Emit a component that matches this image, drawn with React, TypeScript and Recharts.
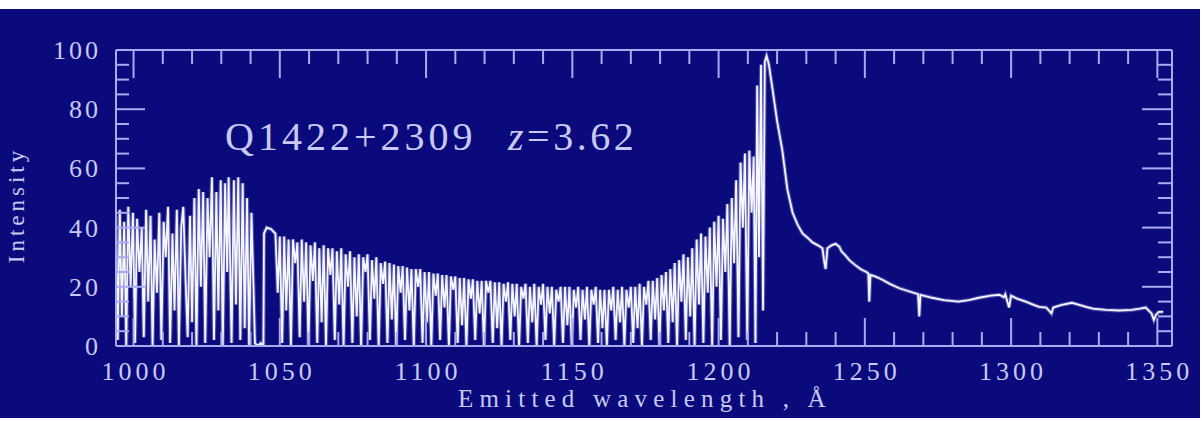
import React from 'react';
import { LineChart, Line, XAxis, YAxis } from 'recharts';

// Ly-alpha forest, blueward of the emission peak: [wavelength (Å), intensity]
const lyaForest: [number, number][] = [
  [994.0, 44], [994.6, 2], [995.3, 46], [996.0, 10], [996.8, 42], [997.5, 0], [998.2, 47], [999.0, 20],
  [999.8, 45], [1000.5, 1], [1001.2, 43], [1002.0, 25], [1002.8, 40], [1003.5, 3], [1004.3, 46], [1005.0, 15],
  [1005.8, 44], [1006.5, 0], [1007.2, 36], [1008.0, 18], [1008.8, 45], [1009.5, 2], [1010.3, 42], [1011.0, 30],
  [1011.8, 47], [1012.5, 1], [1013.3, 38], [1014.0, 12], [1014.8, 46], [1015.5, 0], [1016.3, 40], [1017.0, 47],
  [1017.8, 22], [1018.5, 3], [1019.3, 44], [1020.0, 8], [1020.8, 50], [1021.5, 0], [1022.3, 53], [1023.0, 20],
  [1023.8, 52], [1024.5, 1], [1025.3, 50], [1026.0, 30], [1026.8, 57], [1027.5, 2], [1028.3, 52], [1029.0, 12],
  [1029.8, 56], [1030.5, 0], [1031.3, 55], [1032.0, 25], [1032.5, 57], [1033.5, 1], [1034.3, 56], [1035.0, 14],
  [1035.8, 57], [1036.5, 2], [1037.3, 55], [1038.0, 6], [1038.8, 50], [1039.5, 0], [1040.3, 45], [1041.0, 20],
  [1041.5, 1], [1042.5, 0], [1043.5, 1], [1044.4, 0], [1044.6, 38], [1045.5, 40], [1047.0, 39.5], [1048.5, 38],
  [1049.3, 18], [1050.0, 37], [1050.8, 1], [1051.5, 37], [1052.2, 12], [1053.0, 36], [1053.8, 0], [1054.5, 36],
  [1055.3, 28], [1056.0, 35], [1056.8, 3], [1057.5, 36], [1058.3, 15], [1059.0, 35], [1059.8, 0], [1060.5, 34],
  [1061.3, 22], [1062.0, 35], [1062.8, 1], [1063.5, 33], [1064.3, 8], [1065.0, 34], [1065.8, 0], [1066.5, 33],
  [1067.3, 24], [1068.0, 33], [1068.8, 2], [1069.5, 32], [1070.3, 14], [1071.0, 33], [1071.8, 0], [1072.5, 31],
  [1073.3, 20], [1074.0, 32], [1074.8, 1], [1075.5, 30], [1076.3, 10], [1077.0, 31], [1077.8, 0], [1078.5, 30],
  [1079.3, 25], [1080.0, 31], [1080.8, 2], [1081.5, 29], [1082.3, 16], [1083.0, 30], [1083.8, 0], [1084.5, 28],
  [1085.3, 21], [1086.0, 28.5], [1086.8, 1], [1087.5, 28], [1088.3, 9], [1089.0, 27.5], [1089.8, 0], [1090.5, 27],
  [1091.3, 18], [1092.0, 27], [1092.8, 2], [1093.5, 26.5], [1094.3, 12], [1095.0, 26], [1095.8, 0], [1096.5, 26],
  [1097.3, 20], [1098.0, 26], [1098.8, 1], [1099.5, 25], [1100.3, 8], [1101.0, 25], [1101.8, 0], [1102.5, 24.5],
  [1103.3, 17], [1104.0, 24.5], [1104.8, 2], [1105.5, 24], [1106.3, 13], [1107.0, 24], [1107.8, 0], [1108.5, 23.5],
  [1109.3, 19], [1110.0, 23.5], [1110.8, 1], [1111.5, 23], [1112.3, 7], [1113.0, 23], [1113.8, 0], [1114.5, 22.5],
  [1115.3, 16], [1116.0, 22.5], [1116.8, 2], [1117.5, 22], [1118.3, 11], [1119.0, 22], [1119.8, 0], [1120.5, 22],
  [1121.3, 18], [1122.0, 22], [1122.8, 1], [1123.5, 21.5], [1124.3, 6], [1125.0, 21.5], [1125.8, 0], [1126.5, 21],
  [1127.3, 15], [1128.0, 21.5], [1128.8, 2], [1129.5, 21], [1130.3, 10], [1131.0, 21], [1131.8, 0], [1132.5, 20],
  [1133.3, 16], [1134.0, 21], [1134.8, 1], [1135.5, 20], [1136.3, 8], [1137.0, 21], [1137.8, 0], [1138.5, 20],
  [1139.3, 14], [1140.0, 21], [1140.8, 2], [1141.5, 20], [1142.3, 11], [1143.0, 20], [1143.8, 0], [1144.5, 19],
  [1145.3, 15], [1146.0, 20], [1146.8, 1], [1147.5, 20], [1148.3, 7], [1149.0, 20], [1149.8, 0], [1150.5, 19],
  [1151.3, 13], [1152.0, 20], [1152.8, 2], [1153.5, 19], [1154.3, 9], [1155.0, 20], [1155.8, 0], [1156.5, 19],
  [1157.3, 14], [1158.0, 20], [1158.8, 1], [1159.5, 19], [1160.3, 6], [1161.0, 19], [1161.8, 0], [1162.5, 19],
  [1163.3, 12], [1164.0, 20], [1164.8, 2], [1165.5, 19], [1166.3, 8], [1167.0, 20], [1167.8, 0], [1168.5, 19],
  [1169.3, 13], [1170.0, 20], [1170.8, 1], [1171.5, 20], [1172.3, 6], [1173.0, 21], [1173.8, 0], [1174.5, 20],
  [1175.3, 14], [1176.0, 22], [1176.8, 2], [1177.5, 22], [1178.3, 9], [1179.0, 23], [1179.8, 0], [1180.5, 24],
  [1181.3, 12], [1182.0, 25], [1182.8, 1], [1183.5, 26], [1184.3, 8], [1185.0, 28], [1185.8, 0], [1186.5, 29],
  [1187.3, 15], [1188.0, 31], [1188.8, 2], [1189.5, 30], [1190.3, 10], [1191.0, 33], [1191.8, 0], [1192.5, 36],
  [1193.3, 14], [1194.0, 38], [1194.8, 1], [1195.5, 37], [1196.3, 18], [1197.0, 40], [1197.8, 0], [1198.5, 42],
  [1199.3, 20], [1200.0, 44], [1200.8, 2], [1201.5, 43], [1202.3, 25], [1203.0, 48], [1203.8, 0], [1204.5, 50],
  [1205.3, 28], [1206.0, 56], [1206.8, 3], [1207.5, 62], [1208.3, 40], [1209.0, 65], [1209.8, 2], [1210.5, 66],
  [1211.3, 45], [1212.0, 64], [1212.6, 1], [1213.2, 88], [1213.8, 30], [1214.5, 95], [1215.2, 12], [1215.8, 96],
];

// Emission peak and the red wing with its metal lines: [wavelength (Å), intensity]
const redWing: [number, number][] = [
  [1216.4, 98], [1217.2, 95], [1218.4, 87], [1220.0, 76], [1221.8, 66], [1223.5, 53], [1225.3, 45], [1227.0, 41],
  [1228.7, 38], [1230.5, 36.5], [1232.1, 35], [1234.0, 34], [1235.5, 33], [1236.2, 28], [1236.6, 26], [1237.2, 33],
  [1238.6, 34], [1240.0, 34.5], [1241.3, 33.5], [1242.0, 32], [1243.0, 31], [1244.7, 29], [1246.5, 27.5], [1248.5, 26],
  [1250.5, 25], [1251.2, 24.5], [1251.5, 15], [1251.9, 24], [1253.5, 23.5], [1256.0, 22.4], [1258.5, 21], [1261.8, 19.5],
  [1265.0, 18.5], [1268.2, 17.5], [1268.6, 10], [1269.0, 17.3], [1271.0, 16.8], [1273.0, 16.3], [1277.0, 15.5], [1282.0, 15],
  [1285.5, 15.5], [1289.0, 16.3], [1293.0, 17], [1296.0, 17.3], [1297.5, 16.5], [1298.0, 17.5], [1299.3, 13], [1300.0, 17],
  [1302.0, 16], [1305.0, 15], [1307.5, 14], [1309.6, 13.2], [1312.0, 13], [1313.8, 11], [1314.4, 13], [1317.0, 13.8],
  [1320.8, 14.6], [1323.0, 14], [1325.6, 13.2], [1328.0, 12.6], [1332.4, 12.2], [1337.0, 12], [1341.3, 12.2], [1344.0, 12.6],
  [1346.0, 13], [1348.0, 11], [1348.8, 8.8], [1349.5, 10.5], [1350.5, 11.5], [1352.0, 11.5],
];

const wavelengthTicks = [
  1000, 1010, 1020, 1030, 1040, 1050, 1060, 1070, 1080, 1090, 1100, 1110, 1120, 1130, 1140, 1150, 1160, 1170,
  1180, 1190, 1200, 1210, 1220, 1230, 1240, 1250, 1260, 1270, 1280, 1290, 1300, 1310, 1320, 1330, 1340, 1350,
];
const intensityTicks = [0, 5, 10, 15, 20, 25, 30, 35, 40, 45, 50, 55, 60, 65, 70, 75, 80, 85, 90, 95, 100];

const spectrum = [...lyaForest, ...redWing].map(([wavelength, intensity]) => ({ wavelength, intensity }));

const BG = '#0a0a7c';
const AXIS = '#a9aaf0';
const TEXT = '#c9c9f4';
const SPEC = '#f6f6ff';
const GLOW = '#9a9ae6';
const FONT = '"Liberation Serif", "Times New Roman", serif';

const isMajorX = (v: number) => v % 50 === 0;
const isMajorY = (v: number) => v % 20 === 0;

const BottomTick = (props: any) => {
  const { x, y, payload } = props;
  const v = payload.value as number;
  const major = isMajorX(v);
  return (
    <g>
      <line x1={x} y1={y} x2={x} y2={y - (major ? 28 : 14)} stroke={AXIS} strokeWidth={2} />
      {major && (
        <text x={x + 2} y={y + 34} textAnchor="middle" fill={TEXT} fontFamily={FONT} fontSize={26} letterSpacing={4}>
          {v}
        </text>
      )}
    </g>
  );
};

const TopTick = (props: any) => {
  const { x, y, payload } = props;
  const major = isMajorX(payload.value);
  return <line x1={x} y1={y} x2={x} y2={y + (major ? 28 : 14)} stroke={AXIS} strokeWidth={2} />;
};

const LeftTick = (props: any) => {
  const { x, y, payload } = props;
  const v = payload.value as number;
  const major = isMajorY(v);
  return (
    <g>
      <line x1={x} y1={y} x2={x + (major ? 29 : 13)} y2={y} stroke={AXIS} strokeWidth={2} />
      {major && (
        <text x={x - 15} y={y + 9} textAnchor="end" fill={TEXT} fontFamily={FONT} fontSize={26} letterSpacing={3}>
          {v}
        </text>
      )}
    </g>
  );
};

const RightTick = (props: any) => {
  const { x, y, payload } = props;
  const major = isMajorY(payload.value);
  return <line x1={x} y1={y} x2={x - (major ? 30 : 14)} y2={y} stroke={AXIS} strokeWidth={2} />;
};

export default function App() {
  return (
    <div style={{ position: 'absolute', left: 0, top: 0, width: 1202, height: 421, background: '#ffffff' }}>
      <div style={{ position: 'absolute', left: 0, top: 9, width: 1200, height: 409, background: BG }}>
        <LineChart
          width={1200}
          height={409}
          data={spectrum}
          margin={{ top: 40, right: 27, bottom: 0, left: 0 }}
        >
          <XAxis
            xAxisId="bottom"
            dataKey="wavelength"
            type="number"
            domain={[994, 1355]}
            allowDataOverflow
            ticks={wavelengthTicks}
            interval={0}
            height={72}
            tickSize={0}
            tickMargin={0}
            tickLine={false}
            axisLine={{ stroke: AXIS, strokeWidth: 2 }}
            tick={<BottomTick />}
          />
          <XAxis
            xAxisId="top"
            orientation="top"
            dataKey="wavelength"
            type="number"
            domain={[994, 1355]}
            allowDataOverflow
            ticks={wavelengthTicks}
            interval={0}
            height={1}
            tickSize={0}
            tickMargin={0}
            tickLine={false}
            axisLine={{ stroke: AXIS, strokeWidth: 2 }}
            tick={<TopTick />}
          />
          <YAxis
            yAxisId="left"
            type="number"
            domain={[0, 100]}
            allowDataOverflow
            ticks={intensityTicks}
            interval={0}
            width={116}
            tickSize={0}
            tickMargin={0}
            tickLine={false}
            axisLine={{ stroke: AXIS, strokeWidth: 2 }}
            tick={<LeftTick />}
          />
          <YAxis
            yAxisId="right"
            orientation="right"
            type="number"
            domain={[0, 100]}
            allowDataOverflow
            ticks={intensityTicks}
            interval={0}
            width={1}
            tickSize={0}
            tickMargin={0}
            tickLine={false}
            axisLine={{ stroke: AXIS, strokeWidth: 2 }}
            tick={<RightTick />}
          />
          {/* soft lavender halo under the spectrum trace */}
          <Line
            xAxisId="bottom"
            yAxisId="left"
            dataKey="intensity"
            type="linear"
            stroke={GLOW}
            strokeWidth={4}
            strokeOpacity={0.45}
            dot={false}
            legendType="none"
            isAnimationActive={false}
          />
          <Line
            xAxisId="bottom"
            yAxisId="left"
            dataKey="intensity"
            type="linear"
            stroke={SPEC}
            strokeWidth={1.8}
            dot={false}
            isAnimationActive={false}
          />
          <Line
            xAxisId="top"
            yAxisId="right"
            dataKey="intensity"
            type="linear"
            stroke="none"
            dot={false}
            legendType="none"
            isAnimationActive={false}
          />
        </LineChart>
      </div>
      <svg
        width={1202}
        height={421}
        style={{ position: 'absolute', left: 0, top: 0, pointerEvents: 'none' }}
      >
        <text x={225} y={150} fill={TEXT} fontFamily={FONT} fontSize={40} letterSpacing={4}>
          Q1422+2309
        </text>
        <text x={508} y={150} fill={TEXT} fontFamily={FONT} fontSize={40} letterSpacing={3.5}>
          <tspan fontStyle="italic">z</tspan>=3.62
        </text>
        <text
          x={0}
          y={0}
          transform="translate(24 205) rotate(-90)"
          textAnchor="middle"
          fill={TEXT}
          fontFamily={FONT}
          fontSize={23}
          letterSpacing={4}
        >
          Intensity
        </text>
        <text x={458} y={407} fill={TEXT} fontFamily={FONT} fontSize={25} letterSpacing={6.2}>
          Emitted wavelength , Å
        </text>
      </svg>
    </div>
  );
}
